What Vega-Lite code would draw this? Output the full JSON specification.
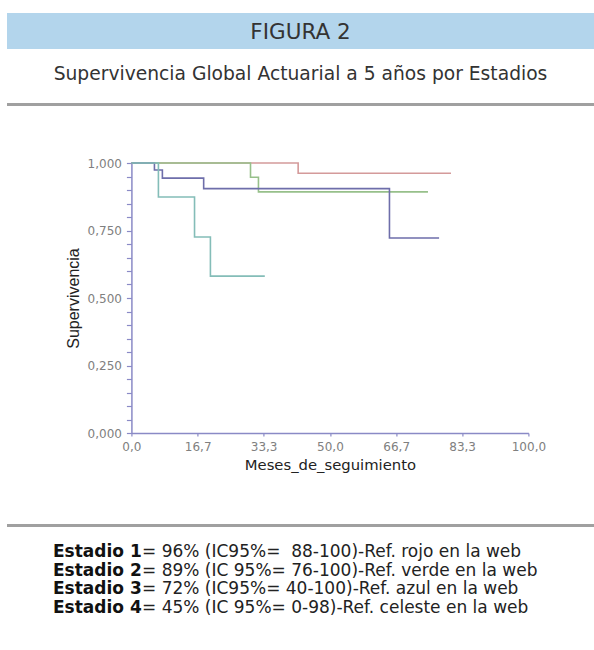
{
  "$schema": "https://vega.github.io/schema/vega-lite/v6.json",
  "background": "white",
  "padding": {"left": 7, "top": 13, "right": 0, "bottom": 0},
  "spacing": 0,
  "center": true,
  "config": {"view": {"stroke": null}, "font": "DejaVu Sans"},
  "datasets": {
    "cabecera": [{"texto": "FIGURA 2"}],
    "subtitulo": [{"texto": "Supervivencia Global Actuarial a 5 años por Estadios"}],
    "curvas": [
      {"estadio": "Estadio 1", "mes": 0, "sup": 1.0},
      {"estadio": "Estadio 1", "mes": 42.0, "sup": 0.962},
      {"estadio": "Estadio 1", "mes": 80.5, "sup": 0.962},
      {"estadio": "Estadio 2", "mes": 0, "sup": 1.0},
      {"estadio": "Estadio 2", "mes": 30.0, "sup": 0.947},
      {"estadio": "Estadio 2", "mes": 32.0, "sup": 0.893},
      {"estadio": "Estadio 2", "mes": 74.7, "sup": 0.893},
      {"estadio": "Estadio 3", "mes": 0, "sup": 1.0},
      {"estadio": "Estadio 3", "mes": 5.8, "sup": 0.974},
      {"estadio": "Estadio 3", "mes": 7.8, "sup": 0.944},
      {"estadio": "Estadio 3", "mes": 18.2, "sup": 0.905},
      {"estadio": "Estadio 3", "mes": 65.0, "sup": 0.722},
      {"estadio": "Estadio 3", "mes": 77.5, "sup": 0.722},
      {"estadio": "Estadio 4", "mes": 0, "sup": 1.0},
      {"estadio": "Estadio 4", "mes": 6.8, "sup": 0.874},
      {"estadio": "Estadio 4", "mes": 15.9, "sup": 0.726},
      {"estadio": "Estadio 4", "mes": 19.9, "sup": 0.581},
      {"estadio": "Estadio 4", "mes": 33.6, "sup": 0.581}
    ],
    "notas": [
      {"linea": 1, "estadio": "Estadio 1", "resto": "= 96% (IC95%=\u00a0 88-100)-Ref. rojo en la web"},
      {"linea": 2, "estadio": "Estadio 2", "resto": "= 89% (IC 95%= 76-100)-Ref. verde en la web"},
      {"linea": 3, "estadio": "Estadio 3", "resto": "= 72% (IC95%= 40-100)-Ref. azul en la web"},
      {"linea": 4, "estadio": "Estadio 4", "resto": "= 45% (IC 95%= 0-98)-Ref. celeste en la web"}
    ]
  },
  "vconcat": [
    {
      "width": 587, "height": 36,
      "view": {"fill": "#b3d5ec"},
      "data": {"name": "cabecera"},
      "mark": {"type": "text", "fontSize": 21.5, "color": "#333333", "dy": 2},
      "encoding": {"text": {"field": "texto"}}
    },
    {
      "width": 587, "height": 49,
      "data": {"name": "subtitulo"},
      "mark": {"type": "text", "fontSize": 18.7, "color": "#333333"},
      "encoding": {"text": {"field": "texto"}}
    },
    {
      "width": 587, "height": 5,
      "data": {"values": []},
      "mark": "text"
    },
    {
      "width": 587, "height": 3,
      "view": {"fill": "#a0a0a0"},
      "data": {"values": []},
      "mark": "text"
    },
    {
      "width": 587, "height": 51,
      "data": {"values": []},
      "mark": "text"
    },
    {
      "spacing": 0,
      "hconcat": [
        {
          "width": 9, "height": 1,
          "data": {"values": []},
          "mark": "text"
        },
        {
          "width": 397, "height": 270,
          "data": {"name": "curvas"},
          "mark": {"type": "line", "interpolate": "step-after", "strokeWidth": 1.6},
          "encoding": {
            "x": {
              "field": "mes", "type": "quantitative",
              "scale": {"domain": [0, 100], "nice": false, "zero": false},
              "axis": {
                "values": [0, 16.7, 33.3, 50, 66.7, 83.3, 100],
                "labelExpr": "replace(format(datum.value, '.1f'), '.', ',')",
                "grid": false,
                "domainColor": "#8a8ac6", "domainWidth": 1.5,
                "tickColor": "#8a8ac6", "tickSize": 3, "tickWidth": 1.2,
                "labelColor": "#808080", "labelFont": "DejaVu Sans", "labelFontSize": 12,
                "labelPadding": 5, "labelFlush": false, "labelOverlap": false,
                "title": "Meses_de_seguimiento",
                "titleFont": "DejaVu Sans", "titleFontSize": 14.8, "titleFontWeight": "normal",
                "titleColor": "#222222", "titlePadding": 5
              }
            },
            "y": {
              "field": "sup", "type": "quantitative",
              "scale": {"domain": [0, 1], "nice": false},
              "axis": {
                "values": [0, 0.05, 0.1, 0.15, 0.2, 0.25, 0.3, 0.35, 0.4, 0.45, 0.5, 0.55, 0.6, 0.65, 0.7, 0.75, 0.8, 0.85, 0.9, 0.95, 1],
                "labelExpr": "abs(datum.value * 4 - round(datum.value * 4)) < 0.001 ? replace(format(datum.value, '.3f'), '.', ',') : ''",
                "grid": false,
                "domainColor": "#8a8ac6", "domainWidth": 1.5,
                "tickColor": "#8a8ac6", "tickSize": 5, "tickWidth": 1.2,
                "labelColor": "#808080", "labelFont": "DejaVu Sans", "labelFontSize": 12,
                "labelPadding": 5, "labelFlush": false, "labelOverlap": false,
                "title": "Supervivencia",
                "titleFont": "Liberation Sans", "titleFontSize": 16, "titleFontWeight": "normal",
                "titleColor": "#222222", "titlePadding": 6
              }
            },
            "color": {
              "field": "estadio", "type": "nominal",
              "scale": {
                "domain": ["Estadio 1", "Estadio 2", "Estadio 3", "Estadio 4"],
                "range": ["#d49a9a", "#97c08a", "#6e6eaa", "#84bdb8"]
              },
              "legend": null
            }
          }
        }
      ]
    },
    {
      "width": 587, "height": 52,
      "data": {"values": []},
      "mark": "text"
    },
    {
      "width": 587, "height": 3,
      "view": {"fill": "#a0a0a0"},
      "data": {"values": []},
      "mark": "text"
    },
    {
      "width": 587, "height": 16,
      "data": {"values": []},
      "mark": "text"
    },
    {
      "width": 495, "height": 74,
      "data": {"name": "notas"},
      "encoding": {
        "x": {"value": 0},
        "y": {"field": "linea", "type": "ordinal", "scale": {"type": "point", "padding": 0.5}, "axis": null}
      },
      "layer": [
        {
          "mark": {"type": "text", "align": "left", "fontSize": 17, "fontWeight": "bold", "color": "#111111"},
          "encoding": {"text": {"field": "estadio"}}
        },
        {
          "mark": {"type": "text", "align": "left", "fontSize": 17, "color": "#222222", "dx": 89},
          "encoding": {"text": {"field": "resto"}}
        }
      ]
    }
  ]
}
